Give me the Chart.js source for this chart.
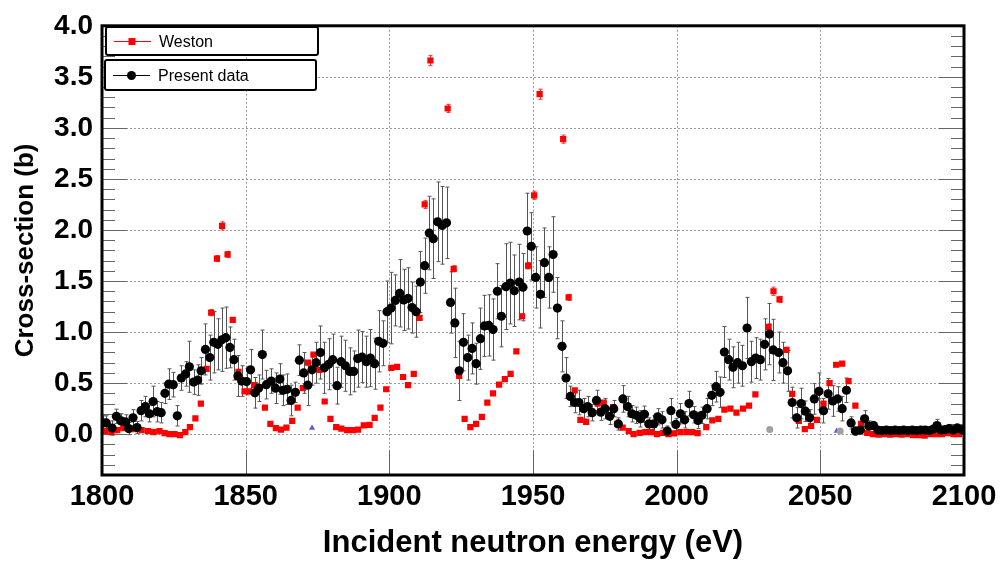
<!DOCTYPE html>
<html><head><meta charset="utf-8">
<script src="https://cdn.jsdelivr.net/npm/chart.js@4.4.0/dist/chart.umd.min.js"></script>
<style>html,body{margin:0;padding:0;background:#fff}#c{display:block}</style>
</head><body>
<canvas id="c" width="1008" height="562"></canvas>
<script>
// ---- Data ----
const xTicks = [1800, 1850, 1900, 1950, 2000, 2050, 2100];
const yTicks = [0.0, 0.5, 1.0, 1.5, 2.0, 2.5, 3.0, 3.5, 4.0];

const energyPresent = [1800.3,1801.5,1803.5,1805.0,1806.7,1808.2,1809.3,1810.8,1812.2,1813.6,1815.1,1816.5,1817.8,1819.2,1820.6,1821.9,1823.2,1824.8,1826.2,1827.6,1829.1,1830.4,1831.9,1833.3,1834.5,1836.0,1837.5,1838.9,1840.3,1841.7,1843.1,1844.5,1845.9,1847.3,1848.6,1850.3,1851.7,1853.2,1854.5,1855.8,1857.2,1858.9,1860.4,1861.9,1863.0,1864.4,1865.8,1867.3,1868.7,1870.2,1871.6,1873.1,1874.5,1876.0,1877.4,1878.9,1880.3,1881.8,1883.2,1884.7,1886.2,1887.6,1889.0,1890.5,1892.0,1893.4,1894.9,1896.3,1897.8,1899.2,1900.6,1902.1,1903.6,1905.0,1906.5,1907.9,1909.3,1910.8,1912.3,1913.9,1915.3,1916.8,1918.4,1919.9,1921.3,1922.8,1924.3,1925.8,1927.3,1928.8,1930.2,1931.7,1933.1,1934.6,1936.1,1937.6,1939.0,1940.6,1942.1,1943.5,1945.2,1946.5,1948.0,1949.4,1950.9,1952.6,1954.0,1955.5,1957.0,1958.5,1960.1,1961.5,1963.0,1964.5,1966.0,1967.6,1969.0,1970.6,1972.1,1973.6,1975.1,1976.7,1978.1,1979.7,1981.3,1982.9,1984.4,1986.0,1987.4,1988.8,1990.3,1992.0,1993.4,1994.9,1996.7,1998.0,1999.7,2001.3,2002.8,2004.3,2005.9,2007.4,2008.8,2010.6,2012.2,2013.7,2015.1,2016.6,2018.1,2019.6,2021.2,2022.9,2024.5,2026.0,2027.5,2029.1,2030.6,2032.3,2033.6,2035.5,2037.0,2038.6,2040.2,2041.8,2043.3,2044.8,2046.3,2047.9,2049.5,2051.1,2052.7,2054.3,2056.0,2057.6,2059.1,2060.7,2062.2,2063.9,2065.4,2066.9,2068.5,2070.0,2071.5,2073.0,2074.5,2076.0,2077.5,2079.0,2080.5,2082.0,2083.5,2085.0,2086.5,2088.0,2089.3,2090.6,2092.0,2093.4,2094.8,2096.2,2097.6,2099.0,2099.9];
const xsPresent = [0.11,0.11,0.06,0.175,0.13,0.12,0.055,0.16,0.065,0.23,0.27,0.20,0.32,0.22,0.21,0.40,0.49,0.485,0.18,0.55,0.59,0.66,0.51,0.53,0.62,0.83,0.75,0.90,0.88,0.925,0.945,0.85,0.73,0.57,0.52,0.515,0.63,0.405,0.45,0.78,0.485,0.52,0.45,0.54,0.43,0.44,0.33,0.41,0.725,0.60,0.48,0.63,0.70,0.80,0.65,0.685,0.73,0.475,0.71,0.67,0.615,0.615,0.74,0.755,0.71,0.745,0.69,0.91,0.89,1.20,1.235,1.31,1.38,1.315,1.33,1.24,1.20,1.49,1.65,1.97,1.915,2.08,2.045,2.07,1.29,1.09,0.62,0.90,0.75,0.84,0.69,0.935,1.06,1.065,1.025,1.40,1.155,1.445,1.48,1.405,1.49,1.44,1.99,1.84,1.535,1.37,1.68,1.535,1.76,1.235,0.86,0.55,0.37,0.31,0.31,0.25,0.27,0.21,0.33,0.215,0.25,0.175,0.25,0.10,0.345,0.27,0.20,0.185,0.15,0.195,0.10,0.10,0.17,0.14,0.03,0.23,0.095,0.20,0.14,0.30,0.19,0.135,0.185,0.25,0.38,0.465,0.41,0.805,0.73,0.655,0.70,0.67,1.04,0.71,0.745,0.73,0.88,0.98,0.825,0.80,0.70,0.62,0.31,0.16,0.30,0.225,0.16,0.345,0.42,0.23,0.395,0.325,0.345,0.25,0.43,0.11,0.03,0.04,0.15,0.08,0.085,0.04,0.035,0.04,0.035,0.04,0.035,0.04,0.035,0.04,0.035,0.04,0.04,0.035,0.05,0.085,0.04,0.045,0.055,0.04,0.06,0.045,0.04];
const errPresent = [0.07,0.07,0.07,0.07,0.07,0.07,0.06,0.08,0.06,0.10,0.10,0.08,0.15,0.10,0.10,0.10,0.15,0.12,0.10,0.12,0.12,0.25,0.12,0.15,0.13,0.25,0.22,0.30,0.25,0.31,0.30,0.20,0.20,0.20,0.15,0.13,0.20,0.15,0.13,0.24,0.14,0.12,0.15,0.15,0.15,0.15,0.15,0.10,0.15,0.20,0.20,0.15,0.20,0.26,0.25,0.25,0.25,0.18,0.25,0.25,0.23,0.20,0.28,0.25,0.25,0.28,0.25,0.30,0.22,0.30,0.35,0.25,0.33,0.30,0.30,0.25,0.25,0.30,0.27,0.36,0.39,0.39,0.38,0.35,0.30,0.34,0.29,0.28,0.22,0.25,0.20,0.30,0.30,0.30,0.30,0.27,0.30,0.42,0.40,0.35,0.37,0.33,0.37,0.33,0.30,0.33,0.34,0.30,0.37,0.30,0.25,0.20,0.10,0.10,0.12,0.10,0.10,0.08,0.10,0.08,0.10,0.08,0.08,0.06,0.13,0.10,0.08,0.08,0.08,0.08,0.06,0.08,0.08,0.08,0.05,0.12,0.06,0.10,0.08,0.12,0.08,0.08,0.08,0.10,0.10,0.15,0.15,0.25,0.20,0.20,0.20,0.20,0.30,0.20,0.20,0.20,0.25,0.30,0.30,0.20,0.20,0.20,0.15,0.10,0.15,0.10,0.08,0.15,0.18,0.12,0.15,0.15,0.12,0.12,0.12,0.06,0.04,0.04,0.08,0.05,0.04,0.02,0.02,0.02,0.02,0.02,0.02,0.02,0.02,0.02,0.02,0.02,0.02,0.02,0.03,0.06,0.03,0.03,0.04,0.03,0.04,0.03,0.03];

const energyWeston = [1801.2,1803.3,1805.3,1807.4,1809.4,1811.5,1813.8,1816.0,1818.0,1820.0,1821.8,1823.5,1825.2,1827.1,1829.0,1830.6,1832.5,1834.4,1836.4,1838.0,1840.0,1841.8,1843.7,1845.5,1847.5,1849.6,1851.3,1853.1,1854.9,1856.7,1858.6,1860.5,1862.3,1864.2,1866.2,1868.1,1869.9,1871.7,1873.6,1875.7,1877.5,1879.5,1881.5,1883.3,1885.3,1887.3,1889.1,1891.1,1893.1,1894.9,1896.9,1898.9,1900.7,1902.7,1904.8,1906.5,1908.5,1910.5,1912.3,1914.3,1920.3,1922.4,1924.3,1926.2,1928.2,1930.2,1932.2,1934.1,1936.1,1938.2,1940.2,1942.2,1944.2,1946.2,1948.3,1950.4,1952.3,1960.5,1962.4,1964.5,1966.5,1968.5,1970.5,1972.5,1974.6,1977.9,1979.3,1981.2,1983.3,1985.0,1987.1,1989.1,1991.1,1993.2,1995.3,1997.2,1999.1,2001.3,2003.4,2005.4,2007.3,2010.3,2012.4,2014.5,2016.6,2018.7,2020.8,2023.1,2025.2,2027.4,2029.4,2032.0,2033.7,2035.8,2038.2,2040.2,2042.5,2044.6,2046.8,2048.8,2051.1,2053.2,2055.5,2057.6,2059.8,2062.2,2064.2,2066.3,2068.3,2070.3,2072.3,2074.3,2076.3,2078.3,2080.3,2082.3,2084.3,2086.3,2088.3,2090.3,2092.3,2094.3,2096.3,2098.3];
const xsWeston = [0.03,0.02,0.04,0.06,0.05,0.05,0.04,0.03,0.02,0.03,0.01,0.0,0.0,-0.01,0.02,0.07,0.155,0.30,0.64,1.19,1.72,2.04,1.76,1.12,0.61,0.42,0.42,0.48,0.46,0.26,0.10,0.06,0.045,0.065,0.13,0.26,0.45,0.70,0.78,0.63,0.32,0.15,0.07,0.055,0.04,0.04,0.045,0.085,0.09,0.16,0.26,0.44,0.65,0.66,0.56,0.48,0.59,1.14,2.25,3.66,3.19,1.62,0.57,0.15,0.07,0.10,0.17,0.31,0.40,0.485,0.54,0.59,0.81,1.155,1.65,2.34,3.33,2.89,1.34,0.43,0.14,0.12,0.22,0.30,0.31,0.265,0.10,0.065,0.03,0.0,0.013,0.02,0.02,0.0,0.013,0.0,0.008,0.02,0.02,0.02,0.01,0.07,0.135,0.15,0.24,0.25,0.21,0.25,0.28,0.39,0.73,1.05,1.40,1.32,0.825,0.395,0.13,0.05,0.08,0.14,0.30,0.50,0.68,0.69,0.52,0.28,0.10,0.013,0.0,-0.005,0.0,-0.005,0.0,-0.005,0.0,-0.01,-0.01,-0.015,0.0,0.0,0.0,0.01,0.0,0.0];
const errWeston = [0.01,0.01,0.01,0.01,0.01,0.01,0.01,0.01,0.01,0.01,0.01,0.01,0.01,0.01,0.01,0.01,0.01,0.01,0.02,0.03,0.03,0.04,0.03,0.02,0.01,0.01,0.01,0.01,0.01,0.01,0.01,0.01,0.01,0.01,0.01,0.01,0.01,0.02,0.02,0.01,0.01,0.01,0.01,0.01,0.01,0.01,0.01,0.01,0.01,0.01,0.01,0.01,0.01,0.01,0.01,0.01,0.01,0.02,0.04,0.05,0.04,0.03,0.01,0.01,0.01,0.01,0.01,0.01,0.01,0.01,0.01,0.01,0.01,0.02,0.03,0.04,0.05,0.04,0.03,0.01,0.01,0.01,0.01,0.01,0.01,0.01,0.01,0.01,0.01,0.01,0.01,0.01,0.01,0.01,0.01,0.01,0.01,0.01,0.01,0.01,0.01,0.01,0.01,0.01,0.01,0.01,0.01,0.01,0.01,0.01,0.02,0.03,0.04,0.03,0.02,0.01,0.01,0.01,0.01,0.01,0.01,0.02,0.02,0.02,0.02,0.01,0.01,0.01,0.01,0.01,0.01,0.01,0.01,0.01,0.01,0.01,0.01,0.01,0.01,0.01,0.01,0.01,0.01,0.01];

const energyBlueMark = [1873.1, 2055.7];
const xsBlueMark = [0.06, 0.03];
const energyGreyMark = [2032.4, 2056.9];
const xsGreyMark = [0.045, 0.03];

const toPts = (xs, ys) => xs.map((x, i) => ({x: x, y: ys[i]}));

// ---- Plugins ----
const framePlugin = {
  id: 'frame',
  beforeDatasetsDraw(chart) {
    const ctx = chart.ctx, a = chart.chartArea, xs = chart.scales.x, ys = chart.scales.y;
    ctx.save();
    // dotted grid
    ctx.strokeStyle = '#9a9a9a'; ctx.lineWidth = 1; ctx.setLineDash([2, 2]);
    xTicks.forEach(v => {
      if (v === 1800 || v === 2100) return;
      const p = Math.round(xs.getPixelForValue(v)) + 0.5;
      ctx.beginPath(); ctx.moveTo(p, a.top); ctx.lineTo(p, a.bottom); ctx.stroke();
    });
    yTicks.forEach(v => {
      if (v === 4.0) return;
      const p = Math.round(ys.getPixelForValue(v)) + 0.5;
      ctx.beginPath(); ctx.moveTo(a.left, p); ctx.lineTo(a.right, p); ctx.stroke();
    });
    ctx.setLineDash([]);
    // ticks
    ctx.strokeStyle = '#666';
    for (let i = -4; i <= 40; i++) {
      const p = Math.round(ys.getPixelForValue(i / 10)) + 0.5;
      const len = (i % 5 === 0) ? 25 : 13;
      ctx.beginPath();
      ctx.moveTo(a.left, p); ctx.lineTo(a.left + len, p);
      ctx.moveTo(a.right, p); ctx.lineTo(a.right - len, p);
      ctx.stroke();
    }
    xTicks.forEach(v => {
      const p = Math.round(xs.getPixelForValue(v)) + 0.5;
      ctx.beginPath(); ctx.moveTo(p, a.bottom); ctx.lineTo(p, a.bottom - 25); ctx.stroke();
    });
    // error bars
    const drawErr = (ex, ey, ee, color, cap) => {
      ctx.strokeStyle = color; ctx.lineWidth = 1;
      ex.forEach((x, i) => {
        if (!ee[i]) return;
        const px = Math.round(xs.getPixelForValue(x)) + 0.5;
        const y1 = ys.getPixelForValue(ey[i] + ee[i]);
        const y2 = ys.getPixelForValue(ey[i] - ee[i]);
        ctx.beginPath();
        ctx.moveTo(px, y1); ctx.lineTo(px, y2);
        ctx.moveTo(px - cap, y1); ctx.lineTo(px + cap, y1);
        ctx.moveTo(px - cap, y2); ctx.lineTo(px + cap, y2);
        ctx.stroke();
      });
    };
    ctx.beginPath(); ctx.rect(a.left, a.top, a.right - a.left, a.bottom - a.top); ctx.clip();
    drawErr(energyWeston, xsWeston, errWeston, '#ff3333', 2);
    drawErr(energyPresent, xsPresent, errPresent, '#555', 2);
    ctx.restore();
  },
  afterDraw(chart) {
    const ctx = chart.ctx, a = chart.chartArea;
    ctx.save();
    ctx.strokeStyle = '#000'; ctx.lineWidth = 3;
    ctx.strokeRect(a.left, a.top, a.right - a.left, a.bottom - a.top);
    // legend
    const ds = chart.data.datasets;
    const boxes = [
      {x: 106, y: 27, w: 212, h: 28, ds: ds[0]},
      {x: 105, y: 60, w: 211, h: 30, ds: ds[1]}
    ];
    boxes.forEach(b => {
      ctx.fillStyle = '#fff';
      ctx.lineWidth = 2; ctx.strokeStyle = '#000';
      ctx.beginPath();
      if (ctx.roundRect) ctx.roundRect(b.x, b.y, b.w, b.h, 2); else ctx.rect(b.x, b.y, b.w, b.h);
      ctx.fill(); ctx.stroke();
      const cy = b.y + b.h / 2 + 0.5;
      ctx.strokeStyle = b.ds.borderColor; ctx.lineWidth = 1;
      ctx.beginPath(); ctx.moveTo(b.x + 8, cy); ctx.lineTo(b.x + 45, cy); ctx.stroke();
      ctx.fillStyle = b.ds.backgroundColor;
      if (b.ds.pointStyle === 'rect') ctx.fillRect(b.x + 22.5, cy - 3.5, 7, 7);
      else { ctx.beginPath(); ctx.arc(b.x + 26.5, cy, 4.5, 0, Math.PI * 2); ctx.fill(); }
      ctx.fillStyle = '#000';
      ctx.font = '16px "Liberation Sans", Arial, sans-serif';
      ctx.textBaseline = 'middle'; ctx.textAlign = 'left';
      ctx.fillText(b.ds.label, b.x + 53, cy + 1);
    });
    ctx.restore();
  }
};

const sans = '"Liberation Sans", Arial, sans-serif';

new Chart(document.getElementById('c'), {
  type: 'scatter',
  data: {
    datasets: [
      {label: 'Weston', data: toPts(energyWeston, xsWeston), pointStyle: 'rect', pointRadius: 4.4, pointHoverRadius: 4.4,
       backgroundColor: '#ff0000', borderColor: '#ff0000', borderWidth: 0, order: 2},
      {label: 'Present data', data: toPts(energyPresent, xsPresent), pointStyle: 'circle', pointRadius: 4.6, pointHoverRadius: 4.6,
       backgroundColor: '#000000', borderColor: '#000000', borderWidth: 0, order: 1},
      {label: '', data: toPts(energyBlueMark, xsBlueMark), pointStyle: 'triangle', pointRadius: 3.5,
       backgroundColor: '#5a5ad8', borderColor: '#5a5ad8', borderWidth: 0, order: 3},
      {label: '', data: toPts(energyGreyMark, xsGreyMark), pointStyle: 'circle', pointRadius: 3.5,
       backgroundColor: '#a0a0a0', borderColor: '#a0a0a0', borderWidth: 0, order: 0}
    ]
  },
  options: {
    responsive: false, animation: false, devicePixelRatio: 1,
    layout: {padding: {left: 0, right: 44, top: 22, bottom: 0}},
    plugins: {legend: {display: false}, tooltip: {enabled: false}},
    scales: {
      x: {
        type: 'linear', min: 1800, max: 2100,
        afterBuildTicks: s => { s.ticks = xTicks.map(v => ({value: v})); },
        afterFit: s => { s.height = 87; },
        grid: {display: false, drawTicks: false}, border: {display: false},
        ticks: {color: '#000', font: {family: sans, size: 29, weight: 'bold'}, padding: 5, maxRotation: 0, autoSkip: false,
                callback: v => String(v)},
        title: {display: true, text: 'Incident neutron energy (eV)', color: '#000',
                font: {family: sans, size: 31, weight: 'bold'}, padding: {top: 0, bottom: 0}}
      },
      y: {
        type: 'linear', min: -0.4, max: 4.0,
        afterBuildTicks: s => { s.ticks = yTicks.map(v => ({value: v})); },
        afterFit: s => { s.width = 102; },
        grid: {display: false, drawTicks: false}, border: {display: false},
        ticks: {color: '#000', font: {family: sans, size: 28, weight: 'bold'}, padding: 9,
                callback: v => Number(v).toFixed(1)},
        title: {display: true, text: 'Cross-section (b)', color: '#000',
                font: {family: sans, size: 26, weight: 'bold'}, padding: {top: 10, bottom: 0}}
      }
    }
  },
  plugins: [framePlugin]
});
</script>
</body></html>
